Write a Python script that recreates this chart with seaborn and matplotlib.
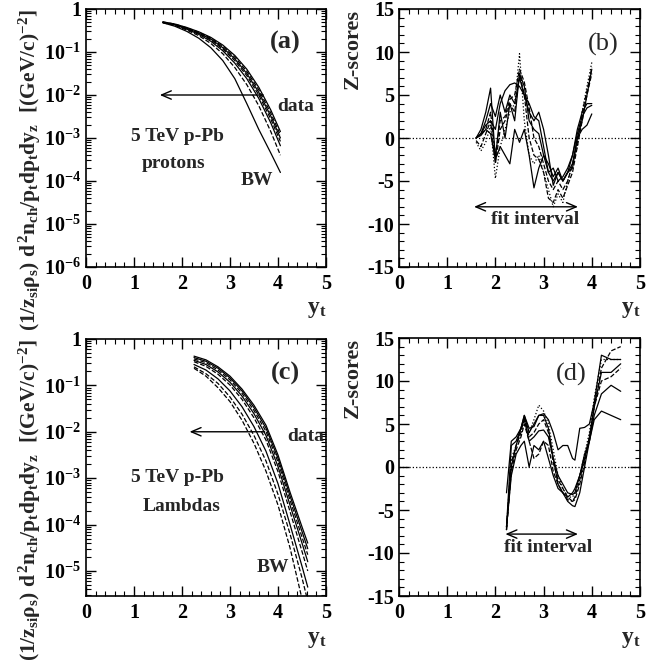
import matplotlib
matplotlib.use("Agg")
import matplotlib.pyplot as plt
import seaborn as sns
from matplotlib.ticker import MultipleLocator, FixedLocator, LogLocator, NullFormatter

# ---------------- data ----------------
# panel (a): protons spectra vs y_t
x_a = [1.6, 1.85, 2.1, 2.35, 2.6, 2.85, 3.1, 3.35, 3.6, 3.85, 4.05]
a1 = [0.501, 0.447, 0.372, 0.295, 0.219, 0.145, 0.0832, 0.0398, 0.0151, 0.00447, 0.00141]
a2 = [0.501, 0.447, 0.363, 0.288, 0.209, 0.135, 0.0759, 0.0355, 0.0132, 0.00380, 0.00117]
a3 = [0.490, 0.437, 0.355, 0.275, 0.200, 0.126, 0.0692, 0.0316, 0.0115, 0.00324, 0.00100]
a4 = [0.490, 0.427, 0.347, 0.269, 0.191, 0.117, 0.0631, 0.0282, 0.0100, 0.00275, 0.000832]
a5 = [0.490, 0.427, 0.339, 0.257, 0.178, 0.107, 0.0550, 0.0240, 0.00832, 0.00224, 0.000661]
a6 = [0.479, 0.417, 0.324, 0.240, 0.158, 0.0912, 0.0437, 0.0174, 0.00562, 0.00141, 0.000398]
a7 = [0.479, 0.398, 0.302, 0.209, 0.126, 0.0631, 0.0240, 0.00631, 0.00158, 0.000447, 0.000158]
curves_a = [a1, a2, a3, a4, a5, a6, a7]
styles_a = ["-", "--", "-", "--", "-", "--", "-"]

# panel (b): protons Z-scores
x_b = [1.6, 1.7, 1.8, 1.9, 2.0, 2.1, 2.2, 2.3, 2.4, 2.5, 2.6, 2.7, 2.8,
       2.9, 3.0, 3.1, 3.2, 3.3, 3.4, 3.5, 3.6, 3.7, 3.8, 3.9, 4.0]
b1 = [0, 1, 3, 5.8, -2.5, 3, 0, 4, 2, 7.5, 6, 2, 1, 0.5, -2, -4, -5, -4, -5, -4, -3, 0, 2, 5, 8]
b2 = [0, 0.5, 1.5, 2, 1, 4, 5.5, 6.2, 6.4, 6, 5, 4, 2.5, 2, -1, -4, -3.5, -5, -4.5, -3.5, -2, 0.5, 2.5, 3.5, 3.8]
b3 = [0, 0.3, 1, 0.5, -2.5, -1, -2, -3, 1, -0.5, 1, -2, -5.8, -3.5, -2, -3, -4.5, -3.5, -5, -4, -3.5, 0, 1, 1.5, 2.8]
b4 = [0, 0.5, 2, 4, 2.5, 5, 3, 5, 4, 7, 5, 3, 2, 3, 1, -2, -5.5, -4, -5, -4, -2, 1, 3, 4, 4]
b5 = [-0.5, -1.5, -0.5, 1.5, -4.7, -1, 1, 3, 4, 9.8, 2, -2, -3, -2, -4, -6, -8, -6.5, -7.5, -5, -3, -1, 3, 6, 8.8]
b6 = [0, 0.5, 1, 3, -2, 2, 2.5, 4.5, 5, 8, 6.5, 3.5, 0, -1, -3, -5, -6, -5, -6, -5, -3, -0.5, 3, 5.5, 8.2]
b7 = [-0.3, -1, 0.5, 2, -3, 1, 2, 4, 3, 7.5, 5, 0, -2, -2.5, -4, -7, -7.5, -6, -7, -5.5, -4, -1, 2, 5, 7.5]
curves_b = [b1, b2, b3, b4, b5, b6, b7]
styles_b = ["-", "-", "-", "-", ":", "--", "--"]

# panel (c): Lambdas spectra vs y_t
x_c = [2.25, 2.5, 2.75, 3.0, 3.25, 3.5, 3.75, 4.0, 4.25, 4.5, 4.62]
c1 = [0.427, 0.355, 0.251, 0.158, 0.0832, 0.0372, 0.0138, 0.00316, 0.000501, 8.91e-5, 3.98e-5]
c2 = [0.398, 0.331, 0.234, 0.145, 0.0759, 0.0331, 0.0120, 0.00269, 0.000417, 7.08e-5, 3.02e-5]
c3 = [0.372, 0.309, 0.214, 0.132, 0.0676, 0.0288, 0.0102, 0.00224, 0.000339, 5.37e-5, 2.24e-5]
c4 = [0.347, 0.282, 0.195, 0.117, 0.0589, 0.0245, 0.00832, 0.00178, 0.000263, 3.98e-5, 1.58e-5]
c5 = [0.324, 0.257, 0.174, 0.102, 0.0501, 0.0200, 0.00661, 0.00138, 0.000191, 2.63e-5, 1.00e-5]
c6 = [0.282, 0.214, 0.138, 0.0759, 0.0347, 0.0129, 0.00380, 0.000759, 0.000100, 1.26e-5, 4.47e-6]
c7 = [0.251, 0.178, 0.110, 0.0562, 0.0240, 0.00832, 0.00234, 0.000447, 6.31e-5, 7.08e-6, 2.24e-6]
c8 = [0.234, 0.158, 0.0891, 0.0447, 0.0178, 0.00562, 0.00141, 0.000263, 3.16e-5, 2.51e-6, 6.3e-7]
curves_c = [c1, c2, c3, c4, c5, c6, c7, c8]
styles_c = ["-", "-", "--", "-", "--", "-", "--", "--"]

# panel (d): Lambdas Z-scores
x_d = [2.23, 2.33, 2.43, 2.53, 2.6, 2.7, 2.8, 2.9, 3.0, 3.1, 3.2, 3.3, 3.4,
       3.5, 3.6, 3.65, 3.75, 3.85, 3.95, 4.05, 4.2, 4.4, 4.6]
d1 = [-3, 3, 3.5, 4.5, 6, 4.5, 4.7, 6, 6.2, 5.5, 4, 2, 2.5, 2.5, 1, 0.8, 4.5, 4.6, 5, 7.5, 13, 12.5, 12.5]
d2 = [-7, -1, 1.5, 2.5, 3, 0, 2.5, 2, 3, 1, -1, -2.5, -3, -3.5, -3, -2.5, -1, 1.5, 3, 5.5, 6.5, 6, 5.5]
d3 = [-7, 2.5, 3, 4.5, 5.5, 3, 3.5, 4.2, 4.3, 3.5, 1, -1, -2, -3, -3.2, -3, -1, 1, 3, 6, 8.5, 9.5, 8.8]
d4 = [-7.3, 0, 2.5, 4.5, 6, 4, 5, 6, 6, 4.5, 1, -2, -3, -4, -4.5, -4.6, -3, 0, 3, 7, 11, 11, 12]
d5 = [-7.3, 1, 2.5, 4, 5.5, 4, 5.5, 7.2, 6.5, 5, 2, -1, -2.5, -3.5, -3.5, -3, -1, 1.5, 4, 8, 12.5, 12.5, 12.5]
d6 = [-7.3, -0.5, 2, 3.5, 5, 3, 1, 1.5, 3, 2.5, -0.5, -2, -3, -3.8, -4, -3.8, -2, 0.5, 3.5, 7, 11.5, 13.5, 14]
d7 = [-7, 0.5, 2.5, 4, 5.8, 3.5, 4, 5, 5.5, 4, 0.5, -1.5, -2.5, -3.5, -4, -3.5, -1.5, 1, 3.5, 7, 10, 10.5, 11.5]
curves_d = [d1, d2, d3, d4, d5, d6, d7]
styles_d = ["-", "-", "-", "-", ":", "--", "--"]

x_ticks = [0, 1, 2, 3, 4, 5]
x_ticklabels = ["0", "1", "2", "3", "4", "5"]
ya_ticks = [1e-6, 1e-5, 1e-4, 1e-3, 1e-2, 1e-1, 1]
ya_ticklabels = [r"$10^{-6}$", r"$10^{-5}$", r"$10^{-4}$", r"$10^{-3}$", r"$10^{-2}$", r"$10^{-1}$", "1"]
yc_ticks = [1e-5, 1e-4, 1e-3, 1e-2, 1e-1, 1]
yc_ticklabels = [r"$10^{-5}$", r"$10^{-4}$", r"$10^{-3}$", r"$10^{-2}$", r"$10^{-1}$", "1"]
z_ticks = [-15, -10, -5, 0, 5, 10, 15]
z_ticklabels = ["-15", "-10", "-5", "0", "5", "10", "15"]

# ---------------- style ----------------
sns.set_style("ticks")
plt.rcParams["font.family"] = ["Liberation Serif", "DejaVu Serif"]
plt.rcParams.update({
    "font.weight": "bold",
    "axes.labelweight": "bold",
    "mathtext.fontset": "custom",
    "mathtext.rm": "Liberation Serif:bold",
    "mathtext.it": "Liberation Serif:bold",
    "mathtext.bf": "Liberation Serif:bold",
    "axes.linewidth": 1.2,
    "axes.edgecolor": "black",
})

fig = plt.figure(figsize=(6.67, 6.65), dpi=100)
W, H = 667.0, 665.0
axA = fig.add_axes([86 / W, 1 - 267 / H, 240 / W, 258 / H])
axB = fig.add_axes([399 / W, 1 - 267 / H, 241 / W, 258 / H])
axC = fig.add_axes([86 / W, 1 - 596 / H, 240 / W, 257 / H])
axD = fig.add_axes([399 / W, 1 - 596 / H, 241 / W, 258 / H])

TFS = 14.5
LFS = 14


def style_common(ax):
    ax.set_xlim(0, 5)
    ax.xaxis.set_major_locator(FixedLocator(x_ticks))
    ax.set_xticklabels(x_ticklabels, fontsize=TFS, fontweight="bold")
    ax.xaxis.set_minor_locator(MultipleLocator(0.2))
    ax.tick_params(which="both", direction="in", top=True, right=True, colors="black")
    ax.tick_params(which="major", length=7, width=1)
    ax.tick_params(which="minor", length=3.5, width=0.8)
    ax.tick_params(axis="x", pad=5)
    ax.set_xlabel(r"$\mathrm{y_t}$", loc="right", fontsize=17, labelpad=4)


def style_log(ax, ylim, ticks, labels):
    ax.set_yscale("log")
    ax.set_ylim(*ylim)
    ax.yaxis.set_major_locator(FixedLocator(ticks))
    ax.set_yticklabels(labels, fontsize=TFS, fontweight="bold")
    ax.yaxis.set_minor_locator(LogLocator(base=10, subs=range(2, 10), numticks=20))
    ax.yaxis.set_minor_formatter(NullFormatter())
    ax.set_ylabel(r"$(1/z_{si}\rho_s)\ d^2n_{ch}/p_tdp_tdy_z\ \ [(GeV/c)^{-2}]$",
                  loc="top", fontsize=15.5, labelpad=1)


def style_z(ax):
    ax.set_ylim(-15, 15)
    ax.yaxis.set_major_locator(FixedLocator(z_ticks))
    ax.set_yticklabels(z_ticklabels, fontsize=TFS, fontweight="bold")
    ax.yaxis.set_minor_locator(MultipleLocator(1))
    ax.set_ylabel("Z-scores", loc="top", fontsize=16, fontweight="bold", labelpad=3)
    ax.axhline(0, color="black", lw=0.9, ls=":")


def draw(ax, x, curves, styles):
    for y, ls in zip(curves, styles):
        sns.lineplot(x=x, y=y, ax=ax, color="black", lw=0.9, linestyle=ls,
                     estimator=None, sort=False)


# panel (a)
draw(axA, x_a, curves_a, styles_a)
style_common(axA)
style_log(axA, (1e-6, 1), ya_ticks, ya_ticklabels)
axA.annotate("", xy=(1.48, 1e-2), xytext=(3.75, 1e-2),
             arrowprops=dict(arrowstyle="->,head_length=0.7,head_width=0.3", lw=1, color="black"))
axA.text(4.36, 5.3e-3, "data", fontsize=LFS, ha="center", va="center")
axA.text(1.9, 1.1e-3, "5 TeV p-Pb", fontsize=LFS, ha="center", va="center")
axA.text(1.83, 2.5e-4, "protons", fontsize=LFS, ha="center", va="center")
axA.text(3.55, 1.05e-4, "BW", fontsize=LFS, ha="center", va="center")
axA.text(4.15, 1.65e-1, "(a)", fontsize=19, ha="center", va="center")

# panel (b)
draw(axB, x_b, curves_b, styles_b)
style_common(axB)
style_z(axB)
axB.annotate("", xy=(1.5, -8), xytext=(3.77, -8),
             arrowprops=dict(arrowstyle="<->,head_length=0.7,head_width=0.3", lw=1, color="black"))
axB.text(2.82, -9.5, "fit interval", fontsize=LFS, ha="center", va="center")
axB.text(4.24, 10.9, "(b)", fontsize=19, fontweight="normal", ha="center", va="center")

# panel (c)
draw(axC, x_c, curves_c, styles_c)
style_common(axC)
style_log(axC, (2.88e-6, 1), yc_ticks, yc_ticklabels)
axC.annotate("", xy=(2.1, 1e-2), xytext=(3.78, 1e-2),
             arrowprops=dict(arrowstyle="->,head_length=0.7,head_width=0.3", lw=1, color="black"))
axC.text(4.57, 7.8e-3, "data", fontsize=LFS, ha="center", va="center")
axC.text(1.9, 1.02e-3, "5 TeV p-Pb", fontsize=LFS, ha="center", va="center")
axC.text(2.0, 2.5e-4, "Lambdas", fontsize=LFS, ha="center", va="center")
axC.text(3.9, 1.17e-5, "BW", fontsize=LFS, ha="center", va="center")
axC.text(4.15, 1.8e-1, "(c)", fontsize=19, ha="center", va="center")

# panel (d)
draw(axD, x_d, curves_d, styles_d)
style_common(axD)
style_z(axD)
axD.annotate("", xy=(2.15, -7.8), xytext=(3.77, -7.8),
             arrowprops=dict(arrowstyle="<->,head_length=0.7,head_width=0.3", lw=1, color="black"))
axD.text(3.1, -9.4, "fit interval", fontsize=LFS, ha="center", va="center")
axD.text(3.58, 10.8, "(d)", fontsize=19, fontweight="normal", ha="center", va="center")

for ax in (axA, axB, axC, axD):
    for s in ax.spines.values():
        s.set_visible(True)
        s.set_color("black")

fig.savefig("out.png", dpi=100)
